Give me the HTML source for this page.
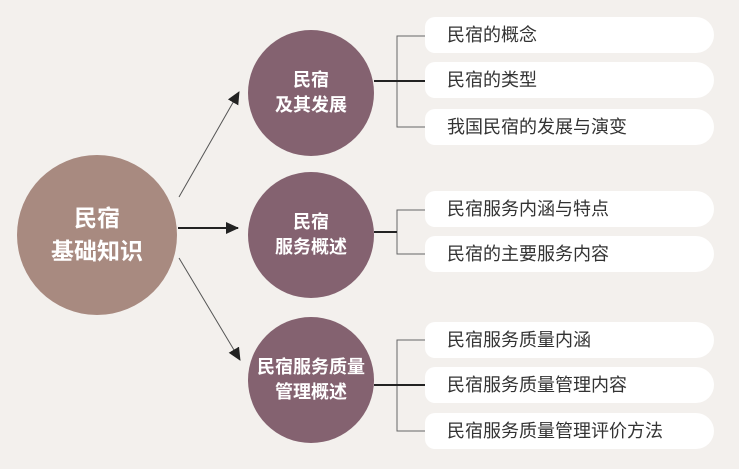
<!DOCTYPE html>
<html><head><meta charset="utf-8"><style>
body{margin:0;width:739px;height:469px;background:#f3f0ed;position:relative;overflow:hidden;font-family:"Liberation Sans","Noto Sans CJK SC",sans-serif}
.c{position:absolute;border-radius:50%;color:#fff;font-weight:bold;display:flex;align-items:center;justify-content:center;text-align:center}
.b{position:absolute;left:425px;width:289px;height:36px;background:#fff;border-radius:10px 18px 18px 10px;box-sizing:border-box;padding-left:22px;line-height:36px;font-size:18px;color:#333}
</style></head><body>
<svg width="739" height="469" style="position:absolute;left:0;top:0">
<defs><marker id="a" markerWidth="14" markerHeight="14" refX="12" refY="6" orient="auto" markerUnits="userSpaceOnUse"><path d="M0,0 L13,6 L0,12z" fill="#222"/></marker></defs>
<line x1="179" y1="197" x2="239" y2="92" stroke="#555" stroke-width="1" marker-end="url(#a)"/>
<line x1="178" y1="228" x2="238" y2="228" stroke="#222" stroke-width="2" marker-end="url(#a)"/>
<line x1="179" y1="258" x2="240" y2="360" stroke="#555" stroke-width="1" marker-end="url(#a)"/>
<g stroke="#666" fill="none" stroke-width="1">
<path d="M425,36 H397 V127 H425"/><path d="M425,210 H397 V254 H425"/><path d="M425,340 H397 V431 H425"/>
</g>
<g stroke="#222" stroke-width="2">
<line x1="374" y1="81" x2="425" y2="81"/><line x1="374" y1="232" x2="397" y2="232"/><line x1="374" y1="385" x2="425" y2="385"/>
</g>
</svg>
<div class="c" style="left:17px;top:155px;width:160px;height:160px;background:#a88a80;font-size:23px;line-height:33px">民宿<br>基础知识</div>
<div class="c" style="left:248px;top:30px;width:126px;height:126px;background:#846270;font-size:18px;line-height:25px">民宿<br>及其发展</div>
<div class="c" style="left:248px;top:172px;width:126px;height:126px;background:#846270;font-size:18px;line-height:25px">民宿<br>服务概述</div>
<div class="c" style="left:248px;top:317px;width:126px;height:126px;background:#846270;font-size:18px;line-height:25px">民宿服务质量<br>管理概述</div>
<div class="b" style="top:17px">民宿的概念</div>
<div class="b" style="top:62px">民宿的类型</div>
<div class="b" style="top:109px">我国民宿的发展与演变</div>
<div class="b" style="top:191px">民宿服务内涵与特点</div>
<div class="b" style="top:236px">民宿的主要服务内容</div>
<div class="b" style="top:322px">民宿服务质量内涵</div>
<div class="b" style="top:367px">民宿服务质量管理内容</div>
<div class="b" style="top:413px">民宿服务质量管理评价方法</div>
</body></html>
